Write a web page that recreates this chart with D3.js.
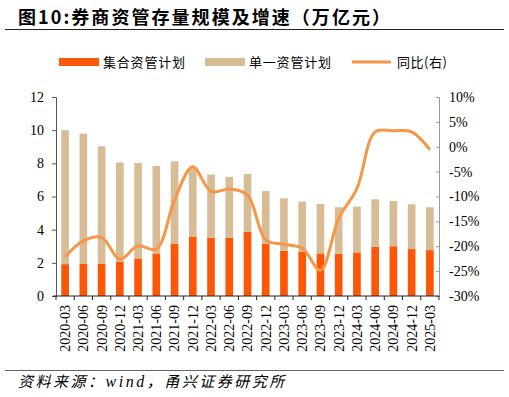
<!DOCTYPE html>
<html lang="zh">

<head>
    <meta charset="UTF-8">
    <title>券商资管存量规模及增速</title>
    <style>
        body {
            margin: 0;
            background: #fff;
        }

        .cn {
            font-family: "Noto Sans CJK SC", sans-serif;
        }
    </style>
</head>

<body>
    <svg width="509" height="397"></svg>
    <script src="https://d3js.org/d3.v7.min.js"></script>
    <script>
        let categories = ["2020-03", "2020-06", "2020-09", "2020-12", "2021-03", "2021-06", "2021-09", "2021-12",
            "2022-03", "2022-06", "2022-09", "2022-12", "2023-03", "2023-06", "2023-09", "2023-12",
            "2024-03", "2024-06", "2024-09", "2024-12", "2025-03"];

        // 集合资管计划 (万亿元)
        let collective = [1.92, 1.93, 1.93, 2.05, 2.27, 2.57, 3.14, 3.58, 3.52, 3.52, 3.88,
            3.14, 2.73, 2.67, 2.57, 2.55, 2.63, 2.97, 3.0, 2.83, 2.77];

        // 资管总规模 (集合 + 单一)
        let total = [10.0, 9.79, 9.03, 8.06, 8.02, 7.84, 8.12, 7.7, 7.32, 7.18, 7.36,
            6.33, 5.89, 5.69, 5.55, 5.35, 5.39, 5.83, 5.73, 5.53, 5.35];

        let single = total.map((d, i) => d - collective[i]);

        // 同比 (%)
        let yoy = [-22.1, -18.9, -18.2, -22.6, -19.9, -20.6, -10.7, -4.0, -9.0, -8.5, -9.7,
            -18.7, -19.6, -20.4, -24.8, -14.4, -8.4, 3.0, 3.2, 3.0, -0.6];

        let leftTicks = [0, 2, 4, 6, 8, 10, 12];
        let rightTicks = [-30, -25, -20, -15, -10, -5, 0, 5, 10];

        let colors = { collective: "#fc5607", single: "#d8bc96", line: "#f79646" };
        let serif = "'Liberation Serif', 'Times New Roman', serif";

        let svg = d3.select("svg"),
            margin = { top: 97, right: 70, bottom: 101, left: 56 },
            width = +svg.attr("width") - margin.left - margin.right,
            height = +svg.attr("height") - margin.top - margin.bottom;

        // title
        svg.append("text")
            .attr("class", "cn")
            .attr("x", 18)
            .attr("y", 24)
            .attr("textLength", 372)
            .style("font-size", "18px")
            .style("font-weight", "bold")
            .text("图10:券商资管存量规模及增速（万亿元）");

        svg.append("line")
            .attr("x1", 5).attr("x2", 504)
            .attr("y1", 29.5).attr("y2", 29.5)
            .attr("stroke", "#222").attr("stroke-width", 1);

        // legend
        let legend = [
            { name: "集合资管计划", color: colors.collective, x: 59, type: "rect" },
            { name: "单一资管计划", color: colors.single, x: 205, type: "rect" },
            { name: "同比(右)", color: colors.line, x: 352, type: "line" }
        ];
        let lg = svg.selectAll("g.legend").data(legend).enter().append("g")
            .attr("class", "legend")
            .attr("transform", d => `translate(${d.x},62)`);
        lg.filter(d => d.type === "rect").append("rect")
            .attr("x", 0).attr("y", -4).attr("width", 40).attr("height", 8)
            .attr("fill", d => d.color);
        lg.filter(d => d.type === "line").append("line")
            .attr("x1", 0).attr("x2", 39).attr("y1", 0).attr("y2", 0)
            .attr("stroke", d => d.color).attr("stroke-width", 3);
        lg.append("text")
            .attr("class", "cn")
            .attr("x", d => d.type === "rect" ? 44 : 45)
            .attr("dy", "0.35em")
            .attr("textLength", d => d.type === "rect" ? 82 : 50)
            .style("font-size", "13px")
            .text(d => d.name);

        let g = svg.append("g").attr("transform", `translate(${margin.left},${margin.top})`);

        let x = d3.scaleBand().domain(categories).range([0, width]).paddingInner(0.58).paddingOuter(0.29);
        let y = d3.scaleLinear().domain([0, 12]).range([height, 0]);
        let y2 = d3.scaleLinear().domain([-30, 10]).range([height, 0]);

        // bars
        let stackData = categories.map((c, i) => ({ cat: c, collective: collective[i], single: single[i] }));
        let series = d3.stack().keys(["collective", "single"])(stackData);

        g.selectAll("g.series").data(series).enter().append("g")
            .attr("class", "series")
            .attr("fill", d => colors[d.key])
            .selectAll("rect").data(d => d).enter().append("rect")
            .attr("x", d => x(d.data.cat))
            .attr("y", d => y(d[1]))
            .attr("width", x.bandwidth())
            .attr("height", d => y(d[0]) - y(d[1]));

        // line
        let line = d3.line()
            .x((d, i) => x(categories[i]) + x.bandwidth() / 2)
            .y(d => y2(d))
            .curve(d3.curveCatmullRom.alpha(0.5));

        g.append("path")
            .datum(yoy)
            .attr("fill", "none")
            .attr("stroke", colors.line)
            .attr("stroke-width", 3)
            .attr("stroke-linejoin", "round")
            .attr("d", line);

        // axes
        let yAxis = g.append("g")
            .call(d3.axisLeft(y).tickValues(leftTicks).tickSize(4).tickPadding(8))
            .attr("font-family", serif).attr("font-size", 14);
        yAxis.select(".domain").attr("stroke", "#555");
        yAxis.selectAll(".tick line").attr("stroke", "#555");

        let yAxis2 = g.append("g")
            .attr("transform", `translate(${width},0)`)
            .call(d3.axisRight(y2).tickValues(rightTicks).tickFormat(d => d + "%").tickSize(-3).tickPadding(10))
            .attr("font-family", serif).attr("font-size", 14);
        yAxis2.select(".domain").attr("stroke", "#999");
        yAxis2.selectAll(".tick line").attr("stroke", "#999");

        let xAxis = g.append("g")
            .attr("transform", `translate(0,${height})`)
            .call(d3.axisBottom(x).tickSize(0).tickPadding(0))
            .attr("font-family", serif).attr("font-size", 14);
        xAxis.select(".domain").remove();
        xAxis.append("line")
            .attr("x1", -3).attr("x2", width).attr("y1", 0).attr("y2", 0)
            .attr("stroke", "#222");
        xAxis.selectAll(".tick text")
            .attr("transform", "rotate(-90)")
            .attr("text-anchor", "end")
            .attr("x", -9)
            .attr("y", 0)
            .attr("dy", "0.35em");
        // boundary ticks between categories
        xAxis.selectAll("line.sep")
            .data(d3.range(categories.length + 1))
            .enter().append("line")
            .attr("class", "sep")
            .attr("x1", i => i * x.step()).attr("x2", i => i * x.step())
            .attr("y1", 0).attr("y2", 4)
            .attr("stroke", "#222");

        // footer
        svg.append("line")
            .attr("x1", 5).attr("x2", 504)
            .attr("y1", 370.5).attr("y2", 370.5)
            .attr("stroke", "#666").attr("stroke-width", 1);

        let foot = svg.append("text")
            .attr("class", "cn")
            .attr("x", 18)
            .attr("y", 387)
            .style("font-size", "15px")
            .style("font-style", "italic")
            .style("letter-spacing", "2.5px");
        foot.append("tspan").text("资料来源：");
        foot.append("tspan").style("font-family", serif).style("font-size", "16px").text("wind");
        foot.append("tspan").text("，甬兴证券研究所");
    </script>

</body>

</html>
